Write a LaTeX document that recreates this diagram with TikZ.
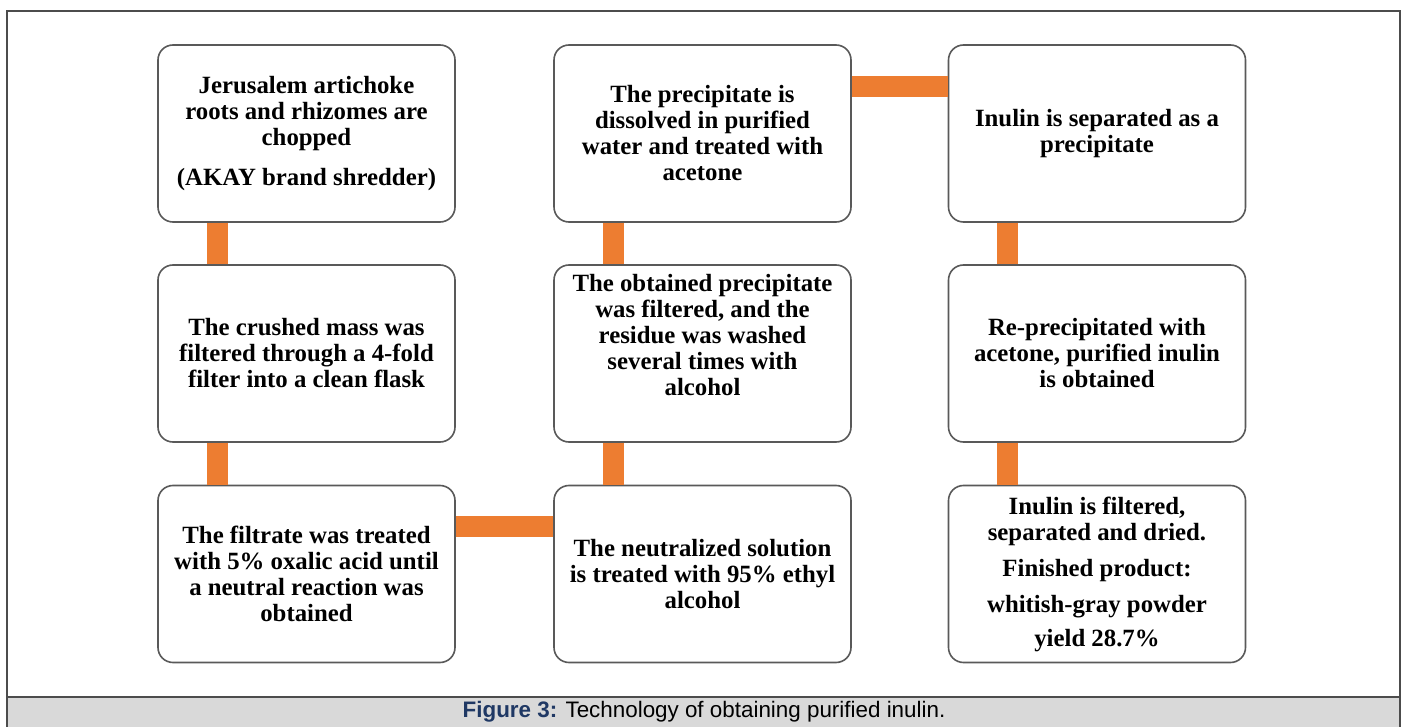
\documentclass[tikz,border=0pt]{standalone}
\usepackage{fontspec}
\setmainfont{Liberation Serif}
\setsansfont{Liberation Sans}
\usepackage{tikz}
\definecolor{linkorange}{RGB}{237,125,49}
\definecolor{capgray}{RGB}{217,217,217}
\definecolor{capblue}{RGB}{31,56,100}
\tikzstyle{stepbox}=[draw=black!65, line width=0.8pt, fill=white, rounded corners=7.5pt, minimum width=148.5pt, minimum height=88.5pt, align=center, inner sep=0pt, font=\fontsize{12.4pt}{13pt}\selectfont\bfseries]
\tikzstyle{link}=[draw=linkorange, line width=10.5pt]
\tikzstyle{frame}=[draw=black!70, line width=0.8pt]

\begin{document}
\begin{tikzpicture}[x=0.5pt, y=-0.5pt]
\useasboundingbox (0,0) rectangle (1404,727);
\fill[capgray] (7,697) rectangle (1400,727);
\draw[frame] (7,727) -- (7,11) -- (1400,11) -- (1400,727);
\draw[frame] (7,697) -- (1400,697);
\node[draw=none, font=\sffamily\fontsize{11.2pt}{13pt}\selectfont] (caption) at (704,712) {\textbf{\color{capblue}Figure 3:} Technology of obtaining purified inulin.};
\node[stepbox] (chop) at (306.5,133.5) {Jerusalem artichoke\\roots and rhizomes are\\chopped\\[7pt](AKAY brand shredder)};
\node[stepbox] (filt) at (306.5,353.5) {The crushed mass was\\filtered through a 4-fold\\filter into a clean flask};
\node[stepbox] (acid) at (306.5,574) {The filtrate was treated\\with 5\% oxalic acid until\\a neutral reaction was\\obtained};
\node[stepbox] (neut) at (702.5,574) {The neutralized solution\\is treated with 95\% ethyl\\alcohol};
\node[stepbox] (wash) at (702.5,353.5) {The obtained precipitate\\was filtered, and the\\residue was washed\\several times with\\alcohol\\[6pt]\mbox{}};
\node[stepbox] (diss) at (702.5,133.5) {The precipitate is\\dissolved in purified\\water and treated with\\acetone};
\node[stepbox] (sep) at (1097,133.5) {Inulin is separated as a\\precipitate};
\node[stepbox] (repr) at (1097,353.5) {Re-precipitated with\\acetone, purified inulin\\is obtained};
\node[stepbox] (dry) at (1097,574) {Inulin is filtered,\\separated and dried.\\[5pt]Finished product:\\[5pt]whitish-gray powder\\[4pt]yield 28.7\%};
\draw[link] ([xshift=30pt]chop.south west) -- ([xshift=30pt]filt.north west);
\draw[link] ([xshift=30pt]filt.south west) -- ([xshift=30pt]acid.north west);
\draw[link] ([yshift=-21pt]acid.north east) -- ([yshift=-21pt]neut.north west);
\draw[link] ([xshift=30pt]neut.north west) -- ([xshift=30pt]wash.south west);
\draw[link] ([xshift=30pt]wash.north west) -- ([xshift=30pt]diss.south west);
\draw[link] ([yshift=-21pt]diss.north east) -- ([yshift=-21pt]sep.north west);
\draw[link] ([xshift=30pt]sep.south west) -- ([xshift=30pt]repr.north west);
\draw[link] ([xshift=30pt]repr.south west) -- ([xshift=30pt]dry.north west);
\end{tikzpicture}
\end{document}
